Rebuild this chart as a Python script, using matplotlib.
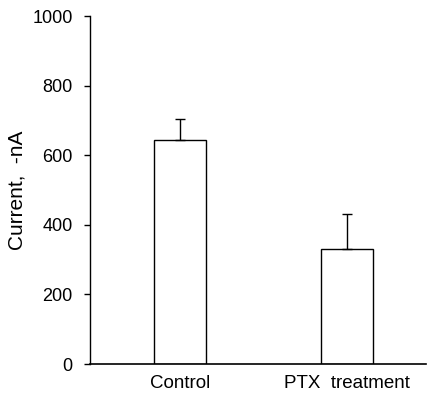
import numpy as np
import matplotlib
matplotlib.use("Agg")
import matplotlib.pyplot as plt

# Values
groups = ["Control", "PTX  treatment"]
current = [645, 330]      # mean current, -nA
current_err = [60, 100]   # upper error bar only
yticks = [0, 200, 400, 600, 800, 1000]

plt.rcParams['font.family'] = ['Liberation Sans', 'DejaVu Sans']

fig = plt.figure(figsize=(4.28, 3.94), dpi=100)
ax = fig.add_axes([0.2103, 0.0761, 0.785, 0.8832])

x = np.arange(len(groups))
ax.bar(x, current, width=0.31, color='white', edgecolor='black', linewidth=1.0, zorder=2)
ax.errorbar(x, current, yerr=[np.zeros(len(current)), current_err], fmt='none',
            ecolor='black', elinewidth=1.0, capsize=3.3, capthick=1.0, zorder=3)

ax.set_xlim(-0.539, 1.473)
ax.set_ylim(0, 1000)
ax.set_yticks(yticks)
ax.set_xticks(x)
ax.set_xticklabels(groups, fontsize=13.5)
ax.tick_params(axis='y', direction='out', length=4, width=1.0, pad=8.5, labelsize=13)
ax.tick_params(axis='x', length=0, pad=8)

ax.spines['top'].set_visible(False)
ax.spines['right'].set_visible(False)
ax.spines['left'].set_linewidth(1.0)
ax.spines['bottom'].set_linewidth(1.2)

ax.set_ylabel("Current,  -nA", fontsize=15, labelpad=4)

fig.savefig("out.png", dpi=100)
